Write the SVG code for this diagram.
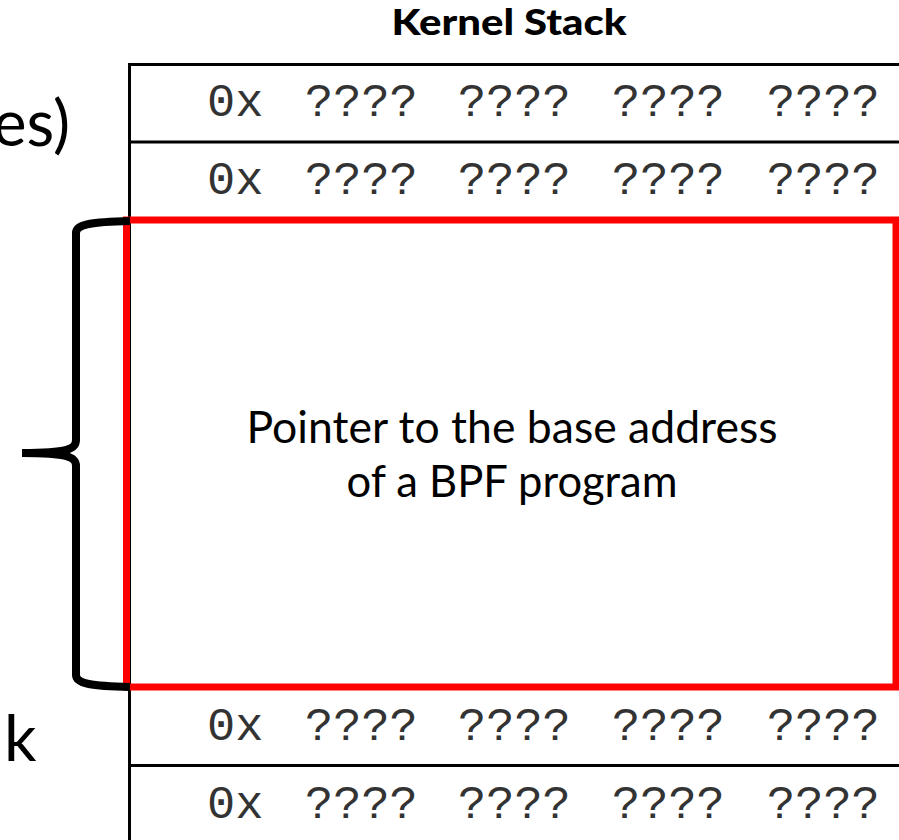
<svg xmlns="http://www.w3.org/2000/svg" width="899" height="840" viewBox="0 0 899 840">
<style>
.mono{font-family:"Liberation Mono","Courier New",monospace;font-size:47px;fill:#333}
.sans{font-family:Lato,"Liberation Sans",sans-serif;fill:#000}
.ln{stroke:#000;stroke-width:3;fill:none}
</style>
<rect width="899" height="840" fill="#fff"/>
<g id="title"><text class="sans" x="509" y="35" font-size="36" font-weight="900" text-anchor="middle" textLength="235" lengthAdjust="spacingAndGlyphs">Kernel Stack</text></g>
<g id="left-labels">
<text class="sans" x="70" y="146" font-size="64" text-anchor="end">es)</text>
<text class="sans" x="4" y="761" font-size="64">k</text>
</g>
<g id="stack">
<line class="ln" x1="129.5" y1="63" x2="129.5" y2="840"/>
<line class="ln" x1="128" y1="64.5" x2="899" y2="64.5"/>
<line class="ln" x1="128" y1="142" x2="899" y2="142"/>
<line class="ln" x1="128" y1="765.5" x2="899" y2="765.5"/>
</g>
<g id="row1"><text class="mono" y="116"><tspan x="207">0x</tspan><tspan x="305">????</tspan><tspan x="458">????</tspan><tspan x="612">????</tspan><tspan x="767">????</tspan></text></g>
<g id="row2"><text class="mono" y="194"><tspan x="207">0x</tspan><tspan x="305">????</tspan><tspan x="458">????</tspan><tspan x="612">????</tspan><tspan x="767">????</tspan></text></g>
<g id="row3"><text class="mono" y="740"><tspan x="207">0x</tspan><tspan x="305">????</tspan><tspan x="458">????</tspan><tspan x="612">????</tspan><tspan x="767">????</tspan></text></g>
<g id="row4"><text class="mono" y="818"><tspan x="207">0x</tspan><tspan x="305">????</tspan><tspan x="458">????</tspan><tspan x="612">????</tspan><tspan x="767">????</tspan></text></g>
<g id="pointer">
<rect x="126.5" y="220" width="769.5" height="467" fill="none" stroke="#f00" stroke-width="7"/>
<text class="sans" x="512" y="443" font-size="44" text-anchor="middle" textLength="531" lengthAdjust="spacingAndGlyphs">Pointer to the base address</text>
<text class="sans" x="512" y="497" font-size="44" text-anchor="middle" textLength="331" lengthAdjust="spacingAndGlyphs">of a BPF program</text>
</g>
<g id="connectors">
<path d="M130,221 C92,222 76,224 76,233 L76,440 C76,449 68,453 22,453 C68,453 76,457 76,466 L76,675 C76,684 92,686 130,687" fill="none" stroke="#000" stroke-width="8"/>
</g>
</svg>
